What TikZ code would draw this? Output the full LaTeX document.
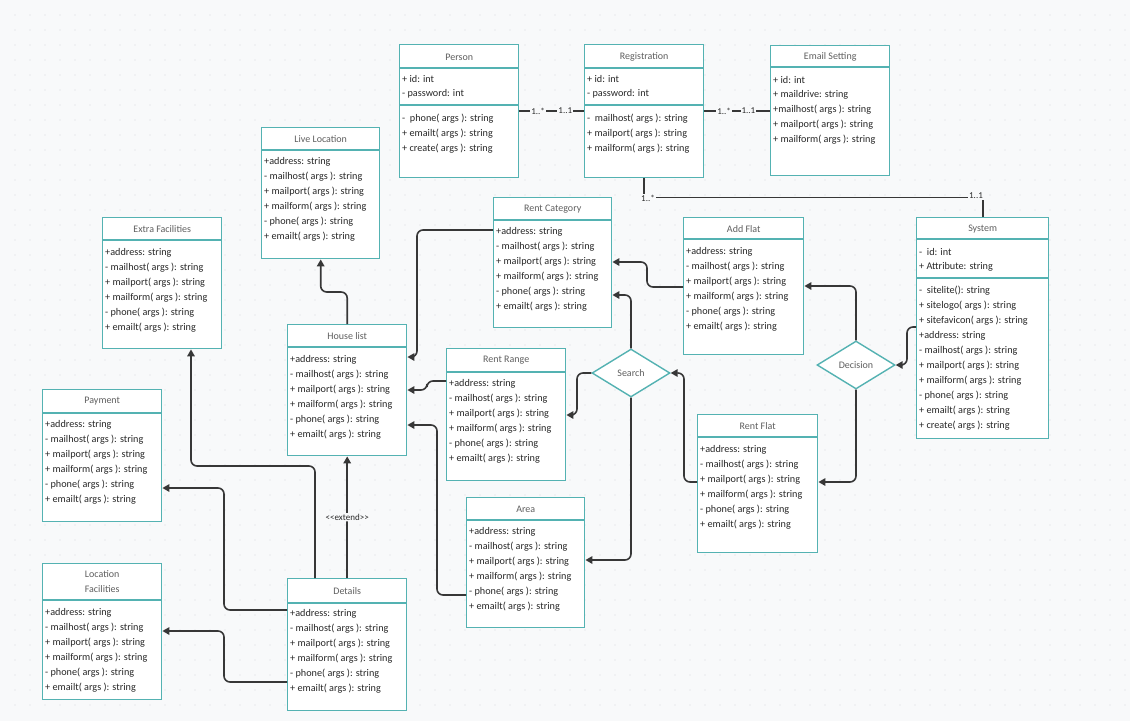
\documentclass[tikz,border=0pt]{standalone}
\usepackage{fontspec}
\setmainfont{Carlito}
\usetikzlibrary{arrows.meta,shapes.geometric,calc}
\definecolor{bgcol}{RGB}{248,249,250}
\definecolor{dotcol}{RGB}{214,218,222}
\definecolor{tealcol}{RGB}{84,178,178}
\definecolor{linecol}{RGB}{55,55,55}
\definecolor{titlecol}{RGB}{95,95,95}
\definecolor{textcol}{RGB}{40,40,40}
\newcommand{\flatmembers}{+address: string,- mailhost( args ): string,+ mailport( args ): string,+ mailform( args ): string,- phone( args ): string,+ emailt( args ): string}

\begin{document}
\begin{tikzpicture}[x=1pt,y=-1pt,
  frame/.style={draw=tealcol,line width=1.4pt,fill=white,anchor=north west,inner sep=0pt},
  divider/.style={draw=tealcol,line width=1.4pt},
  title/.style={text=titlecol,inner sep=0pt,font=\fontsize{10}{12}\selectfont},
  member/.style={anchor=west,text=textcol,inner sep=0pt,font=\fontsize{10.2}{12}\selectfont},
  choice/.style={diamond,draw=tealcol,line width=1.4pt,fill=white,minimum width=78pt,minimum height=48pt,inner sep=0pt,text=titlecol,font=\fontsize{10}{12}\selectfont},
  link/.style={draw=linecol,line width=1.6pt},
  arr/.style={link,rounded corners=6pt,-{Triangle[length=7pt,width=7.5pt]}},
  mult/.style={fill=bgcol,inner sep=1pt,text=textcol,font=\fontsize{9}{11}\selectfont}]
        % background and dot grid
        \fill[bgcol] (0,0) rectangle (1130,721);
        \foreach \gx in {15,30,...,1125}
          \foreach \gy in {15,30,...,710}
            \fill[dotcol] (\gx,\gy) circle (0.7pt);

        % top row
        \node[frame,minimum width=119pt,minimum height=133pt] (person) at (399,44) {};
        \node[title] at ($(person.north)+(0,13)$) {Person};
        \draw[divider] ($(person.north west)+(0,24)$) -- ($(person.north east)+(0,24)$);
        \draw[divider] ($(person.north west)+(0,61)$) -- ($(person.north east)+(0,61)$);
        \foreach \t [count=\i from 0] in {+ id: int,- password: int}
          \node[member] at ($(person.north west)+(3,35+15*\i)$) {\t};
        \foreach \t [count=\i from 0] in {-\ \ phone( args ): string,+ emailt( args ): string,+ create( args ): string}
          \node[member] at ($(person.north west)+(3,75+15*\i)$) {\t};

        \node[frame,minimum width=119pt,minimum height=133pt] (reg) at (584,44) {};
        \node[title] at ($(reg.north)+(0,13)$) {Registration};
        \draw[divider] ($(reg.north west)+(0,24)$) -- ($(reg.north east)+(0,24)$);
        \draw[divider] ($(reg.north west)+(0,61)$) -- ($(reg.north east)+(0,61)$);
        \foreach \t [count=\i from 0] in {+ id: int,- password: int}
          \node[member] at ($(reg.north west)+(3,35+15*\i)$) {\t};
        \foreach \t [count=\i from 0] in {-\ \ mailhost( args ): string,+ mailport( args ): string,+ mailform( args ): string}
          \node[member] at ($(reg.north west)+(3,75+15*\i)$) {\t};

        \node[frame,minimum width=119pt,minimum height=130pt] (email) at (770,45) {};
        \node[title] at ($(email.north)+(0,12)$) {Email Setting};
        \draw[divider] ($(email.north west)+(0,22)$) -- ($(email.north east)+(0,22)$);
        \foreach \t [count=\i from 0] in {+ id: int,+ maildrive: string,+mailhost( args ): string,+ mailport( args ): string,+ mailform( args ): string}
          \node[member] at ($(email.north west)+(3,35+15*\i)$) {\t};

        % middle boxes
        \node[frame,minimum width=118pt,minimum height=131pt] (live) at (261,127) {};
        \node[title] at ($(live.north)+(0,12)$) {Live Location};
        \draw[divider] ($(live.north west)+(0,23)$) -- ($(live.north east)+(0,23)$);
        \foreach \t [count=\i from 0] in \flatmembers
          \node[member] at ($(live.north west)+(3,35+15*\i)$) {\t};

        \node[frame,minimum width=119pt,minimum height=131pt] (extra) at (102,217) {};
        \node[title] at ($(extra.north)+(0,12)$) {Extra Facilities};
        \draw[divider] ($(extra.north west)+(0,23)$) -- ($(extra.north east)+(0,23)$);
        \foreach \t [count=\i from 0] in \flatmembers
          \node[member] at ($(extra.north west)+(3,36+15*\i)$) {\t};

        \node[frame,minimum width=118pt,minimum height=130pt] (rentcat) at (493,197) {};
        \node[title] at ($(rentcat.north)+(0,12)$) {Rent Category};
        \draw[divider] ($(rentcat.north west)+(0,23)$) -- ($(rentcat.north east)+(0,23)$);
        \foreach \t [count=\i from 0] in \flatmembers
          \node[member] at ($(rentcat.north west)+(3,35+15*\i)$) {\t};

        \node[frame,minimum width=120pt,minimum height=137pt] (addflat) at (683,217) {};
        \node[title] at ($(addflat.north)+(0,12)$) {Add Flat};
        \draw[divider] ($(addflat.north west)+(0,22)$) -- ($(addflat.north east)+(0,22)$);
        \foreach \t [count=\i from 0] in \flatmembers
          \node[member] at ($(addflat.north west)+(3,35+15*\i)$) {\t};

        \node[frame,minimum width=132pt,minimum height=221pt] (system) at (916,217) {};
        \node[title] at ($(system.north)+(0,12)$) {System};
        \draw[divider] ($(system.north west)+(0,22)$) -- ($(system.north east)+(0,22)$);
        \draw[divider] ($(system.north west)+(0,61)$) -- ($(system.north east)+(0,61)$);
        \foreach \t [count=\i from 0] in {-\ \ id: int,+ Attribute: string}
          \node[member] at ($(system.north west)+(3,35+15*\i)$) {\t};
        \foreach \t [count=\i from 0] in {-\ \ sitelite(): string,+ sitelogo( args ): string,+ sitefavicon( args ): string,+address: string,- mailhost( args ): string,+ mailport( args ): string,+ mailform( args ): string,- phone( args ): string,+ emailt( args ): string,+ create( args ): string}
          \node[member] at ($(system.north west)+(3,74+15*\i)$) {\t};

        \node[frame,minimum width=119pt,minimum height=131pt] (house) at (287,324) {};
        \node[title] at ($(house.north)+(0,12)$) {House list};
        \draw[divider] ($(house.north west)+(0,23)$) -- ($(house.north east)+(0,23)$);
        \foreach \t [count=\i from 0] in \flatmembers
          \node[member] at ($(house.north west)+(3,36+15*\i)$) {\t};

        \node[frame,minimum width=119pt,minimum height=132pt] (range) at (446,348) {};
        \node[title] at ($(range.north)+(0,12)$) {Rent Range};
        \draw[divider] ($(range.north west)+(0,24)$) -- ($(range.north east)+(0,24)$);
        \foreach \t [count=\i from 0] in \flatmembers
          \node[member] at ($(range.north west)+(3,36+15*\i)$) {\t};

        \node[frame,minimum width=120pt,minimum height=138pt] (rentflat) at (697,414) {};
        \node[title] at ($(rentflat.north)+(0,12)$) {Rent Flat};
        \draw[divider] ($(rentflat.north west)+(0,23)$) -- ($(rentflat.north east)+(0,23)$);
        \foreach \t [count=\i from 0] in \flatmembers
          \node[member] at ($(rentflat.north west)+(3,36+15*\i)$) {\t};

        \node[frame,minimum width=118pt,minimum height=130pt] (area) at (466,497) {};
        \node[title] at ($(area.north)+(0,12)$) {Area};
        \draw[divider] ($(area.north west)+(0,23)$) -- ($(area.north east)+(0,23)$);
        \foreach \t [count=\i from 0] in \flatmembers
          \node[member] at ($(area.north west)+(3,35+15*\i)$) {\t};

        % left column
        \node[frame,minimum width=119pt,minimum height=132pt] (payment) at (42,389) {};
        \node[title] at ($(payment.north)+(0,12)$) {Payment};
        \draw[divider] ($(payment.north west)+(0,24)$) -- ($(payment.north east)+(0,24)$);
        \foreach \t [count=\i from 0] in \flatmembers
          \node[member] at ($(payment.north west)+(3,36+15*\i)$) {\t};

        \node[frame,minimum width=119pt,minimum height=136pt] (locfac) at (42,563) {};
        \node[title,align=center,font=\fontsize{10}{15}\selectfont] at ($(locfac.north)+(0,19)$) {Location\\Facilities};
        \draw[divider] ($(locfac.north west)+(0,37)$) -- ($(locfac.north east)+(0,37)$);
        \foreach \t [count=\i from 0] in \flatmembers
          \node[member] at ($(locfac.north west)+(3,50+15*\i)$) {\t};

        \node[frame,minimum width=119pt,minimum height=132pt] (details) at (287,578) {};
        \node[title] at ($(details.north)+(0,13)$) {Details};
        \draw[divider] ($(details.north west)+(0,25)$) -- ($(details.north east)+(0,25)$);
        \foreach \t [count=\i from 0] in \flatmembers
          \node[member] at ($(details.north west)+(3,36+15*\i)$) {\t};

        % decisions
        \node[choice] (search) at (631,373) {Search};
        \node[choice] (decision) at (856,365) {Decision};

        % associations
        \draw[link] (person.east |- 0,111) -- (reg.west |- 0,111)
          node[mult,pos=0.29] {1..*} node[mult,pos=0.71] {1..1};
        \draw[link] (reg.east |- 0,111) -- (email.west |- 0,111)
          node[mult,pos=0.30] {1..*} node[mult,pos=0.67] {1..1};
        \draw[link] (reg.south) -- ++(0,19) -| (system.north);
        \node[mult] at (648,198) {1..*};
        \node[mult] at (976,196) {1..1};

        % arrows
        \draw[arr] (house.north) -- ++(0,-32) -| (live.south);
        \draw[arr] (rentcat.west |- 0,230) -| (417,357) -- (house.east |- 0,357);
        \draw[arr] (addflat.west |- 0,287) -| (647,262) -- (rentcat.east |- 0,262);
        \draw[arr] (search.north) |- (rentcat.east |- 0,295);
        \draw[arr] (search.west) -| (577,415) -- (range.east |- 0,415);
        \draw[arr] (search.south) |- (area.east |- 0,560);
        \draw[arr] (rentflat.west |- 0,482) -- (684,482) |- (search.east);
        \draw[arr] (decision.north) |- (addflat.east |- 0,286);
        \draw[arr] (decision.south) |- (rentflat.east |- 0,482);
        \draw[arr] (system.west |- 0,327) -| (907,365) -- (decision.east);
        \draw[arr] (range.west |- 0,381) -| (427,390) -- (house.east |- 0,390);
        \draw[arr] (area.west |- 0,595) -| (437,425) -- (house.east |- 0,425);
        \draw[arr] (details.north) -- (house.south) node[mult,midway] {{<}{<}extend{>}{>}};
        \draw[arr] (315,0 |- details.north) |- (191,466) -- (191,0 |- extra.south);
        \draw[arr] (details.west |- 0,610) -| (224,488) -- (payment.east |- 0,488);
        \draw[arr] (details.west |- 0,682) -| (224,631) -- (locfac.east |- 0,631);
      \end{tikzpicture}
\end{document}
